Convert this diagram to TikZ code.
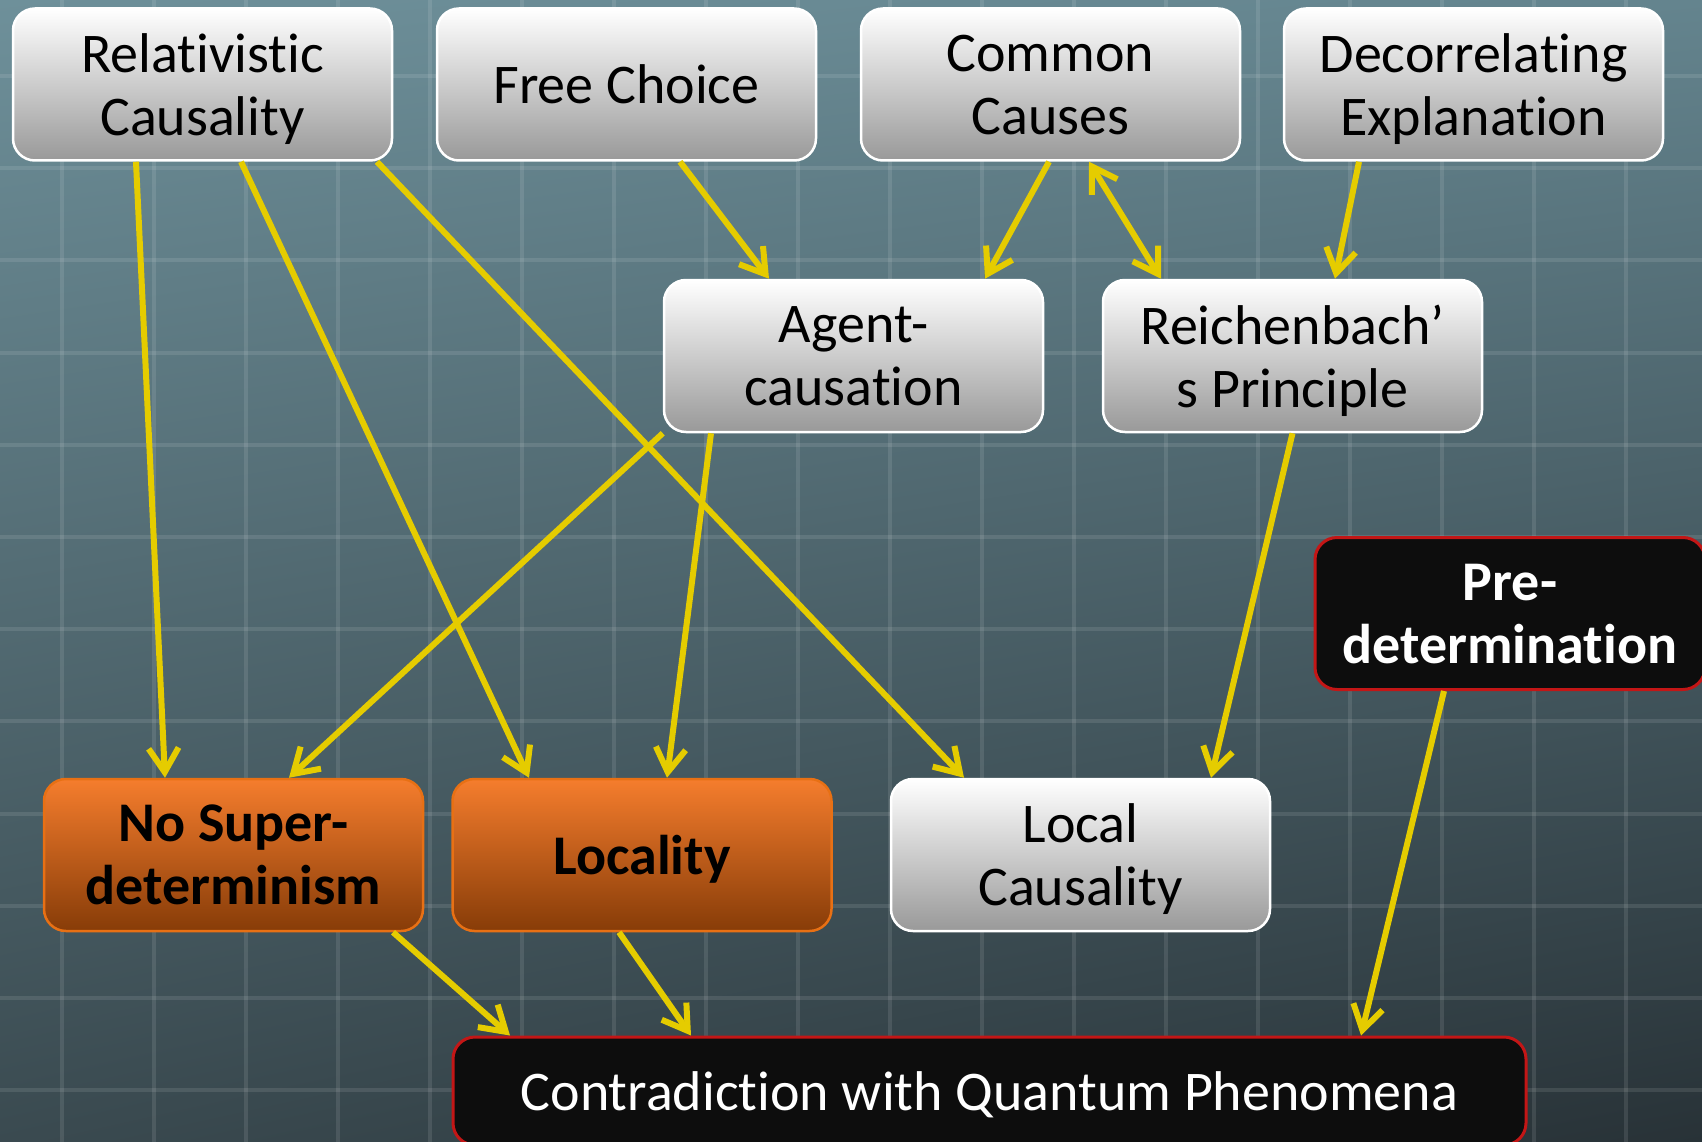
\documentclass[tikz,border=0pt]{standalone}
\usepackage{fontspec}
\setmainfont{Carlito}[RawFeature={-liga}]
\usetikzlibrary{arrows.meta,shadings}
\definecolor{bgul}{RGB}{110,144,154}
\definecolor{bgur}{RGB}{100,132,142}
\definecolor{bgll}{RGB}{58,74,80}
\definecolor{bglr}{RGB}{40,50,55}
\definecolor{arrowyel}{RGB}{229,204,0}
\definecolor{ortop}{RGB}{245,125,45}
\definecolor{orbot}{RGB}{135,60,8}
\definecolor{orline}{RGB}{232,112,20}
\definecolor{boxred}{RGB}{195,22,22}
\definecolor{boxblack}{RGB}{13,13,13}
\begin{document}
\begin{tikzpicture}[x=1pt,y=-1pt,
    >={Straight Barb[length=24pt,width=30pt]},
    every node/.style={align=center,rounded corners=22pt,inner sep=0pt,text depth=0pt,
      minimum width=379pt,minimum height=152pt,font=\fontsize{56}{63}\selectfont},
    greybox/.style={draw=white,line width=2.5pt,top color=white,bottom color=black!40},
    orangebox/.style={draw=orline,line width=2.5pt,top color=ortop,bottom color=orbot,
      font=\fontsize{56}{63}\selectfont\bfseries},
    blackbox/.style={draw=boxred,line width=3pt,fill=boxblack,text=white},
    link/.style={draw=arrowyel,line width=6pt,->}]
  \useasboundingbox (0,0) rectangle (1702,1142);
  \clip (0,0) rectangle (1702,1142);
  % backdrop
  \shade[upper left=bgul,upper right=bgur,lower left=bgll,lower right=bglr]
    (0,0) rectangle (1702,1142);
  \foreach \gx in {62,154,...,1702}
    \draw[white,opacity=.1,line width=4pt] (\gx,0) -- (\gx,1142);
  \foreach \gy in {76,168.2,...,1142}
    \draw[white,opacity=.1,line width=4pt] (0,\gy) -- (1702,\gy);

  \node[greybox] (relcaus) at (202.5,84.5) {Relativistic\\Causality};
  \node[greybox] (freech) at (626.5,84.5) {Free Choice};
  \node[greybox] (comcaus) at (1050.5,84.5) {Common\\Causes};
  \node[greybox] (decorr) at (1473.5,84.5) {Decorrelating\\Explanation};
  \node[greybox] (agent) at (853.5,356) {Agent-\\causation};
  \node[greybox] (reich) at (1292.5,356) {Reichenbach’\\s Principle};
  \node[blackbox,minimum width=390pt,font=\fontsize{56}{63}\selectfont\bfseries]
    (predet) at (1510,613.5) {Pre-\\determination};
  \node[orangebox] (nosuper) at (233.5,855) {No Super-\\determinism};
  \node[orangebox] (local) at (642,855) {Locality};
  \node[greybox] (loccaus) at (1080.5,855) {Local\\Causality};
  \node[blackbox,minimum width=1073pt,minimum height=108pt]
    (contra) at (989.5,1091) {Contradiction with Quantum Phenomena};

  \begin{scope}[link]
    \draw ([xshift=-66.5pt]relcaus.south) to ([xshift=-68.5pt]nosuper.north);
    \draw ([xshift=38.5pt]relcaus.south) to ([xshift=-113pt]local.north);
    \draw ([xshift=174.5pt]relcaus.south) to ([xshift=-116.5pt]loccaus.north);
    \draw ([xshift=53.5pt]freech.south) to ([xshift=-84.5pt]agent.north);
    \draw ([xshift=-1.5pt]comcaus.south) to ([xshift=131.5pt]agent.north);
    \draw[<->] ([xshift=38.5pt]comcaus.south) to ([xshift=-131.5pt]reich.north);
    \draw ([xshift=-114.5pt]decorr.south) to ([xshift=42.5pt]reich.north);
    \draw (agent.south west) to ([xshift=55.5pt]nosuper.north);
    \draw ([xshift=-142.5pt]agent.south) to ([xshift=25pt]local.north);
    \draw (reich.south) to ([xshift=130.5pt]loccaus.north);
    \draw ([xshift=-66pt]predet.south) to ([xshift=371.5pt]contra.north);
    \draw ([xshift=159.5pt]nosuper.south) to ([xshift=-479.5pt]contra.north);
    \draw ([xshift=-23pt]local.south) to ([xshift=-298.5pt]contra.north);
  \end{scope}
\end{tikzpicture}
\end{document}
